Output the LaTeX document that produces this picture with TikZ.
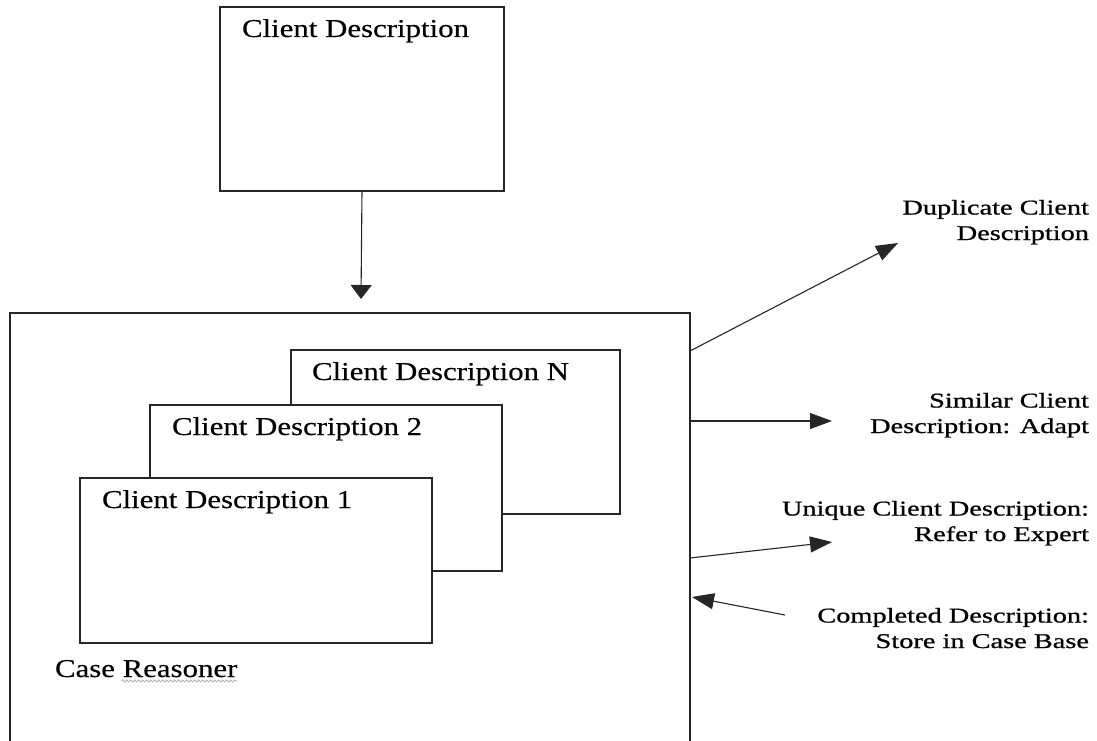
\documentclass[tikz,border=0pt]{standalone}
\usepackage{fontspec}
\setmainfont[FakeStretch=1.2,FakeBold=0.4]{Liberation Serif}
\newfontfamily\rlab[FakeStretch=1.35,FakeBold=0.9]{Liberation Serif}
\usetikzlibrary{arrows.meta,decorations.pathmorphing,calc}
\begin{document}
\begin{tikzpicture}[x=1pt,y=-1pt,
 box/.style={draw=black!85,line width=1.2pt,fill=white,inner sep=0pt,outer sep=0pt,anchor=north west},
 lab/.style={inner sep=0pt,outer sep=0pt,anchor=base west,font=\fontsize{25.7}{30}\selectfont},
 rl/.style={inner sep=0pt,outer sep=0pt,anchor=base east,align=right,font=\rlab\fontsize{21}{25.5}\selectfont},
 conn/.style={draw=black!85,line width=1.1pt},
 arrd/.style={conn,-{Triangle[length=14pt,width=21pt]}},
 arrr/.style={conn,-{Triangle[length=22pt,width=16pt]}}]
\useasboundingbox (0,0) rectangle (1097,741);
\fill[white] (0,0) rectangle (1097,741);
% top box
\node[box,minimum width=284pt,minimum height=184pt] (cd) at (220,7) {};
\node[lab] (cdt) at (242,37) {Client Description};
% big box
\node[box,minimum width=680pt,minimum height=440pt] (cr) at (10,313) {};
% nested boxes
\node[box,minimum width=329pt,minimum height=164pt] (bn) at (291,350) {};
\node[lab] (tn) at (312,380) {Client Description N};
\node[box,minimum width=352pt,minimum height=166pt] (b2) at (150,405) {};
\node[lab] (t2) at (172,435) {Client Description 2};
\node[box,minimum width=352pt,minimum height=165pt] (b1) at (80,478) {};
\node[lab] (t1) at (102,508) {Client Description 1};
\node[lab] (crt) at (55,677) {Case Reasoner};
\draw[gray!70,line width=0.6pt,decorate,decoration={snake,amplitude=1.1pt,segment length=4pt}]
  ($(crt.base east)+(-116,4)$) -- ($(crt.base east)+(0,4)$);
% down arrow
\coordinate (dtip) at (361,299);
\draw[arrd] (cd.south) -- (dtip);
% right labels (anchored at the baseline of the last line)
\node[rl] (ld) at (1089,240) {Duplicate Client\\Description};
\node[rl] (ls) at (1089,433) {Similar Client\\Description: Adapt};
\node[rl] (lu) at (1089,541) {Unique Client Description:\\Refer to Expert};
\node[rl] (lc) at (1089,648) {Completed Description:\\Store in Case Base};
% right arrows
\coordinate (d0) at (690,351); \coordinate (d1) at (898,243);
\coordinate (s0) at (690,421); \coordinate (s1) at (832,421);
\coordinate (u0) at (690,558); \coordinate (u1) at (832,542);
\coordinate (c0) at (785,615); \coordinate (c1) at (692,597);
\draw[arrr] (d0) -- (d1);
\draw[arrr] (s0) -- (s1);
\draw[arrr] (u0) -- (u1);
\draw[arrr] (c0) -- (c1);
\end{tikzpicture}
\end{document}
